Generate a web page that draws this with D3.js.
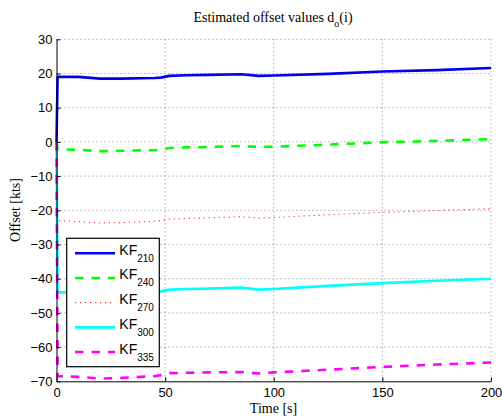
<!DOCTYPE html>
<html><head><meta charset="utf-8">
<script src="https://cdn.jsdelivr.net/npm/d3@7"></script>
<style>body{margin:0;background:#fff}svg{display:block}</style>
</head><body>
<svg id="c" width="502" height="420"></svg>
<script>
const time = [0, 0.5, 10, 20, 30, 45, 48, 52, 60, 70, 85, 93, 100, 125, 150, 175, 200];
const kf210 = [0, 19.0, 19.0, 18.5, 18.5, 18.7, 18.8, 19.3, 19.5, 19.6, 19.8, 19.3, 19.4, 19.9, 20.6, 21.0, 21.6];
const kf240 = [0, -2.2, -2.3, -2.7, -2.6, -2.4, -2.3, -1.8, -1.6, -1.5, -1.2, -1.5, -1.4, -0.8, -0.1, 0.3, 0.8];
const kf270 = [0, -23.0, -23.3, -23.7, -23.6, -23.2, -23.0, -22.6, -22.4, -22.2, -21.9, -22.3, -22.1, -21.3, -20.6, -20.1, -19.5];
const kf300 = [0, -44.0, -44.0, -44.2, -44.1, -43.8, -43.7, -43.2, -43.0, -42.9, -42.6, -43.2, -43.0, -42.1, -41.3, -40.6, -40.0];
const kf335 = [0, -68.5, -68.7, -69.2, -69.0, -68.5, -68.2, -67.6, -67.5, -67.4, -67.3, -67.7, -67.4, -66.6, -65.8, -65.1, -64.5];
const seriesNames = ["210", "240", "270", "300", "335"];
const xTicks = [0, 50, 100, 150, 200];
const yTicks = [30, 20, 10, 0, -10, -20, -30, -40, -50, -60, -70];

const series = [
  {name: seriesNames[0], values: kf210, color: "#0000ee", width: 2.6, dash: null},
  {name: seriesNames[1], values: kf240, color: "#00ff00", width: 2.6, dash: "8.5,8"},
  {name: seriesNames[2], values: kf270, color: "#ff3030", width: 1.1, dash: "1.2,3.8"},
  {name: seriesNames[3], values: kf300, color: "#00ffff", width: 2.6, dash: null},
  {name: seriesNames[4], values: kf335, color: "#ff00ff", width: 2.6, dash: "8.5,8"}
];

const svg = d3.select("#c");
const L = 56.5, R = 491, T = 39.3, B = 381.3;
const x = d3.scaleLinear().domain([0, 200]).range([L, R]);
const y = d3.scaleLinear().domain([-70, 30]).range([B, T]);

// grid
const g = svg.append("g");
g.selectAll(".hg").data(yTicks.filter(d => d !== -70)).join("line")
  .attr("x1", L).attr("x2", R).attr("y1", d => y(d)).attr("y2", d => y(d))
  .attr("stroke", "#666").attr("stroke-width", 0.8).attr("stroke-dasharray", "1,3");
g.selectAll(".vg").data(xTicks.filter(d => d !== 0)).join("line")
  .attr("y1", T).attr("y2", B).attr("x1", d => x(d)).attr("x2", d => x(d))
  .attr("stroke", "#666").attr("stroke-width", 0.8).attr("stroke-dasharray", "1,3");

// lines
const line = d3.line().x((d, i) => x(time[i])).y(d => y(d));
series.forEach(s => {
  svg.append("path").attr("d", line(s.values)).attr("fill", "none")
    .attr("stroke", s.color).attr("stroke-width", s.width)
    .attr("stroke-dasharray", s.dash).attr("stroke-linejoin", "round");
});

// axes
const fmt = d => d < 0 ? "\u2212" + Math.abs(d) : String(d);
const ay = d3.axisLeft(y).tickValues(yTicks).tickSizeInner(-4).tickSizeOuter(0).tickPadding(4).tickFormat(fmt);
const ax = d3.axisBottom(x).tickValues(xTicks).tickSizeInner(-4).tickSizeOuter(0).tickPadding(6.5).tickFormat(fmt);
const gy = svg.append("g").attr("transform", `translate(${L},0)`).call(ay);
const gx = svg.append("g").attr("transform", `translate(0,${B})`).call(ax);
[gx, gy].forEach(a => {
  a.selectAll("text").attr("font-family", "Liberation Sans, Arial, sans-serif").attr("font-size", 13).attr("fill", "#000");
  a.select(".domain").attr("stroke", "#000").attr("stroke-width", 1);
  a.selectAll(".tick line").attr("stroke", "#000");
});

// title
const title = svg.append("text").attr("x", 273).attr("y", 22).attr("text-anchor", "middle")
  .attr("font-family", "Liberation Serif, Times New Roman, serif").attr("font-size", 14).attr("fill", "#000");
title.append("tspan").text("Estimated offset values d");
title.append("tspan").attr("font-size", 10).attr("dy", 5).text("o");
title.append("tspan").attr("dy", -5).text("(i)");

svg.append("text").attr("x", 273.5).attr("y", 413).attr("text-anchor", "middle")
  .attr("font-family", "Liberation Serif, Times New Roman, serif").attr("font-size", 14).text("Time [s]");
svg.append("text").attr("transform", "translate(20,210) rotate(-90)").attr("text-anchor", "middle")
  .attr("font-family", "Liberation Serif, Times New Roman, serif").attr("font-size", 14).text("Offset [kts]");

// legend
const lg = svg.append("g");
lg.append("rect").attr("x", 66.7).attr("y", 238.3).attr("width", 92.6).attr("height", 128.4)
  .attr("fill", "#fff").attr("stroke", "#000").attr("stroke-width", 1.2);
const ly = d3.scalePoint().domain(seriesNames).range([253.3, 352]);
series.forEach(s => {
  const yy = ly(s.name);
  lg.append("line").attr("x1", 75).attr("x2", 115).attr("y1", yy).attr("y2", yy)
    .attr("stroke", s.color).attr("stroke-width", s.width).attr("stroke-dasharray", s.dash);
  const t = lg.append("text").attr("x", 119.3).attr("y", yy + 1.5)
    .attr("font-family", "Liberation Sans, Arial, sans-serif").attr("font-size", 14).attr("fill", "#000");
  t.append("tspan").text("KF");
  t.append("tspan").attr("font-size", 10).attr("dy", 7).text(s.name);
});
</script>
</body></html>
